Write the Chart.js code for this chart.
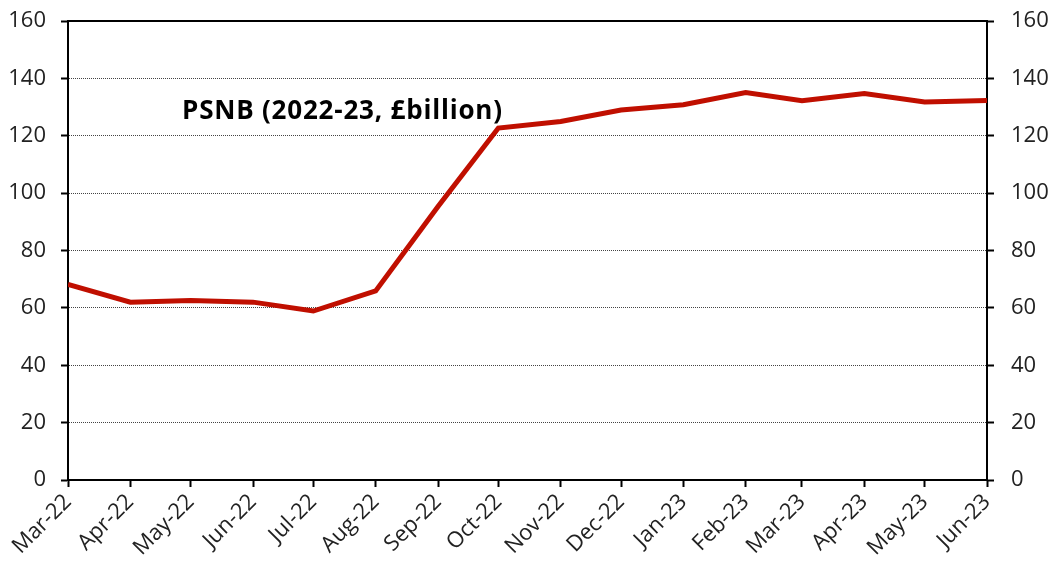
<!DOCTYPE html>
<html>
<head>
<meta charset="utf-8">
<script src="https://cdn.jsdelivr.net/npm/chart.js@4"></script>
<style>
  html, body { margin: 0; padding: 0; background: #fff; }
  #wrap { width: 1055px; height: 568px; }
</style>
</head>
<body>
<div id="wrap"><canvas id="chart"></canvas></div>
<script>
// Data
const months = ['2022-03', '2022-04', '2022-05', '2022-06', '2022-07', '2022-08', '2022-09', '2022-10',
  '2022-11', '2022-12', '2023-01', '2023-02', '2023-03', '2023-04', '2023-05', '2023-06'];
const monthLabels = ['Mar-22', 'Apr-22', 'May-22', 'Jun-22', 'Jul-22', 'Aug-22', 'Sep-22', 'Oct-22',
  'Nov-22', 'Dec-22', 'Jan-23', 'Feb-23', 'Mar-23', 'Apr-23', 'May-23', 'Jun-23'];
const psnb = [68.2, 62.0, 62.6, 62.0, 58.9, 65.9, 95.3, 122.7, 125.0, 129.0, 130.8, 135.1, 132.2, 134.7, 131.8, 132.3];
const yTicks = [0, 20, 40, 60, 80, 100, 120, 140, 160];
const annotation = 'PSNB (2022-23, £billion)';

const FONT = "'Open Sans', 'Noto Sans', sans-serif";

// days since first month, so spacing follows the calendar like a date axis
const start = Date.parse(months[0] + '-01T00:00:00Z');
const dayOf = m => (Date.parse(m + '-01T00:00:00Z') - start) / 86400000;
const days = months.map(dayOf);
const labelByDay = {};
days.forEach((d, i) => { labelByDay[d] = monthLabels[i]; });

const points = days.map((d, i) => ({ x: d, y: psnb[i] }));

// solid top frame + annotation text
const framePlugin = {
  id: 'frame',
  afterDraw(chart) {
    const { ctx, chartArea } = chart;
    ctx.save();
    ctx.strokeStyle = '#000';
    ctx.lineWidth = 2;
    ctx.beginPath();
    ctx.moveTo(chartArea.left - 1, chartArea.top);
    ctx.lineTo(chartArea.right + 1, chartArea.top);
    ctx.stroke();
    ctx.fillStyle = '#000';
    ctx.font = 'bold 26px ' + FONT;
    ctx.letterSpacing = '0.8px';
    ctx.textBaseline = 'alphabetic';
    ctx.textAlign = 'left';
    ctx.fillText(annotation, 182, 119);
    ctx.restore();
  }
};

const yAxis = (position) => ({
  type: 'linear',
  position: position,
  min: 0,
  max: 160,
  afterBuildTicks: s => { s.ticks = yTicks.map(v => ({ value: v })); },
  afterFit: s => { s.width = 68; s.paddingTop = 0; s.paddingBottom = 0; },
  ticks: {
    color: '#222',
    font: { family: FONT, size: 22 },
    padding: position === 'left' ? 15 : 17
  },
  grid: {
    display: true,
    drawOnChartArea: position === 'left',
    color: '#444',
    lineWidth: 1,
    tickLength: 7,
    tickColor: '#000',
    tickWidth: 2,
    tickBorderDash: []
  },
  border: { display: true, color: '#000', width: 2, dash: [1, 1] }
});

new Chart(document.getElementById('chart').getContext('2d'), {
  type: 'line',
  data: {
    datasets: [{
      label: 'PSNB',
      data: points,
      borderColor: '#C00F00',
      borderWidth: 5,
      pointRadius: 0,
      fill: false,
      tension: 0,
      yAxisID: 'y'
    }, {
      label: 'PSNB right',
      data: [],
      yAxisID: 'y2'
    }]
  },
  options: {
    responsive: true,
    maintainAspectRatio: false,
    animation: false,
    layout: { padding: { top: 21, left: 0, right: 0, bottom: 0 } },
    plugins: { legend: { display: false }, tooltip: { enabled: false } },
    scales: {
      x: {
        type: 'linear',
        min: days[0],
        max: days[days.length - 1],
        afterBuildTicks: s => { s.ticks = days.map(v => ({ value: v })); },
        afterFit: s => { s.height = 88; s.paddingLeft = 0; s.paddingRight = 0; },
        ticks: {
          autoSkip: false,
          minRotation: 45,
          maxRotation: 45,
          color: '#222',
          font: { family: FONT, size: 22 },
          padding: 2,
          callback: v => labelByDay[v] || ''
        },
        grid: {
          display: true,
          drawOnChartArea: false,
          tickLength: 7,
          tickColor: '#000',
          tickWidth: 2
        },
        border: { display: true, color: '#000', width: 2 }
      },
      y: yAxis('left'),
      y2: yAxis('right')
    }
  },
  plugins: [framePlugin]
});
</script>
</body>
</html>
